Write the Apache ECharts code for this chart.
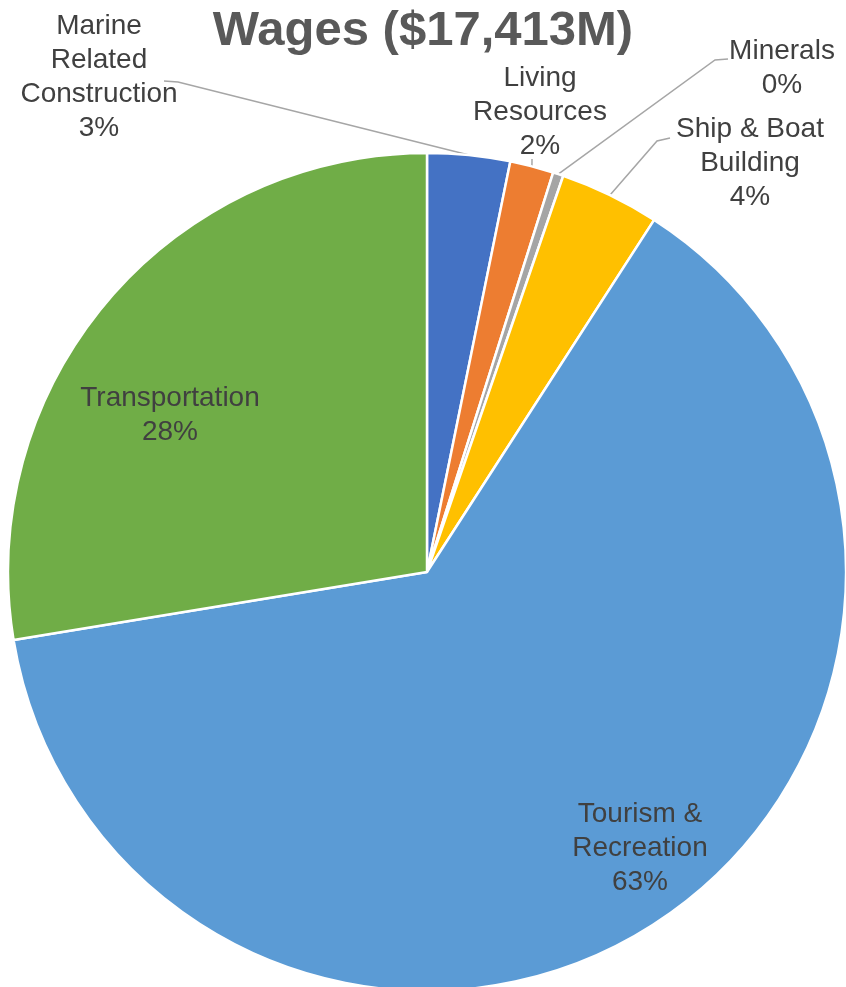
<!DOCTYPE html>
<html>
<head>
<meta charset="utf-8">
<script src="https://cdn.jsdelivr.net/npm/echarts@6/dist/echarts.min.js"></script>
<style>
  html, body { margin: 0; padding: 0; background: #fff; }
  #main { width: 846px; height: 987px; }
</style>
</head>
<body>
<div id="main"></div>
<script>
// wages by sector, $M (total 17,413)
const categories = ['Marine\nRelated\nConstruction', 'Living\nResources', 'Minerals', 'Ship & Boat\nBuilding', 'Tourism &\nRecreation', 'Transportation']
const values = [555, 293, 70, 670, 11020, 4805]
const colors = ['#4472C4', '#ED7D31', '#A5A5A5', '#FFC000', '#5B9BD5', '#70AD47']
const titleText = 'Wages ($17,413M)'

// where each label sits (block centre) and how its leader line runs
const labelSpots = [
  { x: 99, y: 77, line: [[178, 82], [164, 81]] },
  { x: 540, y: 112, line: [[532, 161], [532, 159]] },
  { x: 782, y: 68, line: [[715, 60], [728, 59]] },
  { x: 750, y: 163, line: [[657, 141], [670, 138]] },
  { x: 640, y: 848, line: null },
  { x: 170, y: 415, line: null }
]

const chart = echarts.init(document.getElementById('main'))

const pieData = categories.map(function (name, i) {
  const inside = labelSpots[i].line === null
  return {
    name: name,
    value: values[i],
    itemStyle: { color: colors[i] },
    label: { position: inside ? 'inside' : 'outside' },
    labelLine: { show: !inside }
  }
})

chart.setOption({
  backgroundColor: '#fff',
  animation: false,
  title: {
    text: titleText,
    left: 'center',
    top: 2,
    textStyle: {
      fontFamily: 'Liberation Sans, Arial',
      fontSize: 49,
      fontWeight: 'bold',
      color: '#595959'
    }
  },
  series: [{
    type: 'pie',
    center: [427, 572],
    radius: 419,
    startAngle: 90,
    clockwise: true,
    percentPrecision: 0,
    avoidLabelOverlap: false,
    itemStyle: {
      borderColor: '#fff',
      borderWidth: 2.5
    },
    label: {
      formatter: '{b}\n{d}%',
      fontFamily: 'Liberation Sans, Arial',
      fontSize: 28,
      lineHeight: 34,
      color: '#404040',
      align: 'center'
    },
    labelLine: {
      lineStyle: { color: '#A6A6A6', width: 1.5 }
    },
    labelLayout: function (params) {
      const spot = labelSpots[params.dataIndex]
      const out = { x: spot.x, y: spot.y, align: 'center', verticalAlign: 'middle' }
      if (spot.line && params.labelLinePoints) {
        out.labelLinePoints = [params.labelLinePoints[0]].concat(spot.line)
      }
      return out
    },
    data: pieData
  }]
})
</script>
</body>
</html>
